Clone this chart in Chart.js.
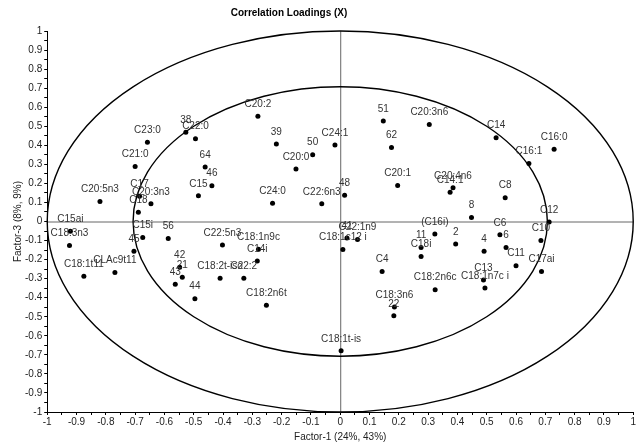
<!DOCTYPE html>
<html>
<head>
<meta charset="utf-8">
<script src="https://cdn.jsdelivr.net/npm/chart.js@4.4.1/dist/chart.umd.min.js"></script>
<style>
    body { margin: 0; background: #fff; }
    #wrap { width: 638px; height: 442px; }
</style>
</head>
<body>
<div id="wrap"><canvas id="loadings" width="638" height="442"></canvas></div>
<script>
// Variable names
const names = [
    'C20:2', '38', 'C22:0', 'C23:0', '39', '50', 'C24:1', 'C20:0', '64', 'C21:0',
    '46', 'C15', 'C20:5n3', 'C17', 'C20:3n3', 'C18', 'C24:0', 'C22:6n3',
    '51', 'C20:3n6', 'C14', '62', 'C16:0', 'C16:1', 'C20:1', 'C20:4n6', 'C14:1',
    '48', 'C8', '8', 'C12',
    'C15ai', 'C18:3n3', 'C18:1t11', 'CLAc9t11', '45', 'C15i', '56', 'C22:5n3',
    'C18:1n9c', 'C14i', '42', '21', '43', 'C18:2t-iso', 'C22:2', '44', 'C18:2n6t',
    '(C16i)', '2', 'C6', '6', '4', '11', 'C18i', 'C11', 'C10', 'C17ai', 'C4',
    'C13', 'C18:1n7c i', 'C18:2n6c', 'C18:3n6', '22', 'C18:1t-is',
    '41', 'C22:1n9', 'C18:1c12 i'
];

// Factor-1 loadings
const factor1 = [
    -0.281, -0.527, -0.494, -0.658, -0.218, -0.094, -0.018, -0.151, -0.461, -0.700,
    -0.438, -0.484, -0.820, -0.685, -0.646, -0.689, -0.231, -0.063,
    0.147, 0.304, 0.532, 0.175, 0.730, 0.644, 0.196, 0.385, 0.375,
    0.015, 0.563, 0.448, 0.713,
    -0.921, -0.924, -0.875, -0.769, -0.704, -0.674, -0.587, -0.402,
    -0.279, -0.283, -0.548, -0.539, -0.563, -0.410, -0.329, -0.496, -0.252,
    0.323, 0.394, 0.545, 0.566, 0.491, 0.276, 0.276, 0.600, 0.685, 0.687, 0.143,
    0.489, 0.494, 0.324, 0.185, 0.183, 0.003,
    0.023, 0.059, 0.009
];

// Factor-3 loadings
const factor3 = [
    0.553, 0.468, 0.435, 0.416, 0.407, 0.351, 0.402, 0.275, 0.286, 0.289,
    0.188, 0.135, 0.105, 0.132, 0.093, 0.049, 0.096, 0.093,
    0.528, 0.509, 0.440, 0.388, 0.379, 0.304, 0.189, 0.177, 0.153,
    0.138, 0.125, 0.021, -0.003,
    -0.051, -0.126, -0.288, -0.268, -0.156, -0.084, -0.089, -0.123,
    -0.146, -0.207, -0.240, -0.293, -0.330, -0.298, -0.298, -0.405, -0.439,
    -0.065, -0.118, -0.070, -0.137, -0.156, -0.137, -0.184, -0.232, -0.100, -0.263, -0.263,
    -0.307, -0.349, -0.358, -0.449, -0.495, -0.679,
    -0.086, -0.095, -0.147
];

// explained variance circles (100% and 50%)
const outerRadius = 1;
const innerRadius = 0.707;

const chartTitle = 'Correlation Loadings (X)';
const xTitle = 'Factor-1 (24%, 43%)';
const yTitle = 'Factor-3 (8%, 9%)';

const points = factor1.map((x, i) => ({ x: x, y: factor3[i] }));

function tickLabel(v) {
    const k = Math.round(v * 20);
    if (k % 2 !== 0) return '';
    return String(Math.round(v * 10) / 10);
}

// circles, zero lines, point names and title
const loadingsDecor = {
    id: 'loadingsDecor',
    beforeDatasetsDraw(chart) {
        const { ctx, chartArea, scales } = chart;
        const xs = scales.x, ys = scales.y;
        const cx = xs.getPixelForValue(0), cy = ys.getPixelForValue(0);
        ctx.save();
        ctx.strokeStyle = '#666';
        ctx.lineWidth = 1;
        ctx.beginPath();
        ctx.moveTo(cx + 0.5, chartArea.top);
        ctx.lineTo(cx + 0.5, chartArea.bottom);
        ctx.moveTo(chartArea.left, cy + 0.5);
        ctx.lineTo(chartArea.right, cy + 0.5);
        ctx.stroke();

        ctx.strokeStyle = '#000';
        ctx.lineWidth = 1.4;
        [outerRadius, innerRadius].forEach(r => {
            const rx = xs.getPixelForValue(r) - cx;
            const ry = cy - ys.getPixelForValue(r);
            ctx.beginPath();
            ctx.ellipse(cx, cy, rx, ry, 0, 0, Math.PI * 2);
            ctx.stroke();
        });
        ctx.restore();
    },
    afterDatasetsDraw(chart) {
        const { ctx } = chart;
        const meta = chart.getDatasetMeta(0);
        ctx.save();
        ctx.font = '10px Arial, "Liberation Sans", sans-serif';
        ctx.fillStyle = '#333';
        ctx.textAlign = 'center';
        ctx.textBaseline = 'middle';
        meta.data.forEach((pt, i) => {
            ctx.fillText(names[i], pt.x, pt.y - 12);
        });
        ctx.font = 'bold 10px Arial, "Liberation Sans", sans-serif';
        ctx.fillStyle = '#000';
        ctx.fillText(chartTitle, 289, 13);
        ctx.restore();
    }
};

const axisCommon = {
    type: 'linear',
    min: -1,
    max: 1,
    border: { display: true, color: '#000', width: 1 },
    grid: { display: true, drawOnChartArea: false, drawTicks: true, tickLength: 3, color: '#000' },
    ticks: {
        stepSize: 0.05,
        autoSkip: false,
        maxRotation: 0,
        padding: 2,
        color: '#222',
        font: { family: 'Arial', size: 10, lineHeight: 1 },
        callback: tickLabel
    }
};

const titleFont = { family: 'Arial', size: 10, lineHeight: 1 };

new Chart(document.getElementById('loadings').getContext('2d'), {
    type: 'scatter',
    data: {
        datasets: [{
            data: points,
            pointRadius: 2.5,
            pointHoverRadius: 2.5,
            backgroundColor: '#000',
            borderWidth: 0
        }]
    },
    options: {
        responsive: false,
        animation: false,
        layout: { padding: { top: 31, right: 3, left: 13, bottom: 0 } },
        plugins: {
            legend: { display: false },
            tooltip: { enabled: false }
        },
        scales: {
            x: {
                ...axisCommon,
                title: { display: true, text: xTitle, color: '#222', font: titleFont, padding: { top: 3, bottom: 0 } }
            },
            y: {
                ...axisCommon,
                title: { display: true, text: yTitle, color: '#222', font: titleFont, padding: { top: 0, bottom: 0 } }
            }
        }
    },
    plugins: [loadingsDecor]
});
</script>
</body>
</html>
